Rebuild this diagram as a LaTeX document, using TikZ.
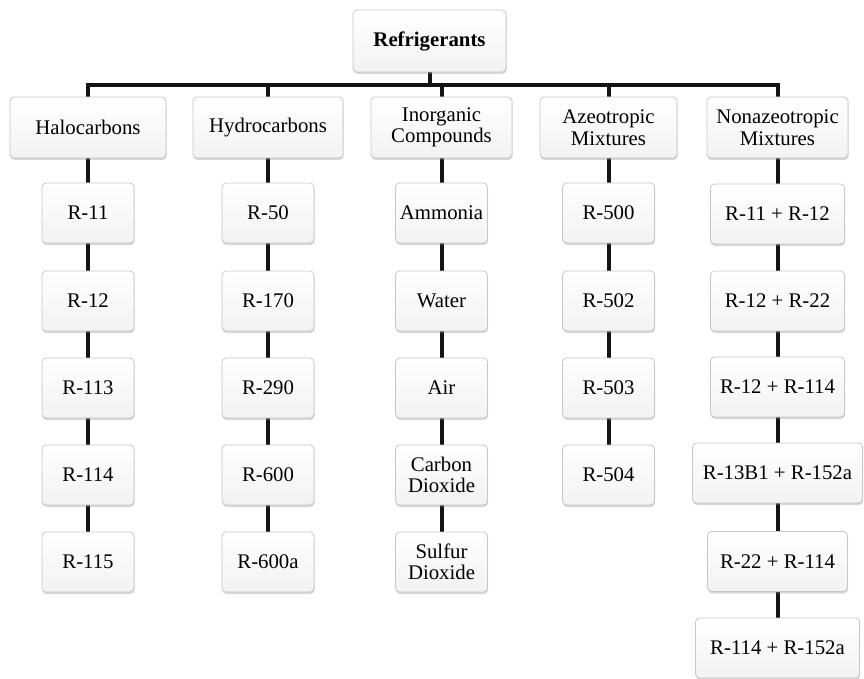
\documentclass[tikz,border=0pt]{standalone}
\usepackage{fontspec}
\setmainfont{Liberation Serif}
\usetikzlibrary{shadows,backgrounds}
\begin{document}
\begin{tikzpicture}[x=1pt,y=-1pt,
  box/.style={draw=black!22, line width=0.8pt, rounded corners=4pt,
    top color=white, bottom color=black!5,
    drop shadow={shadow xshift=0.5pt, shadow yshift=-2pt, opacity=0.35, fill=black!45},
    inner sep=0pt, align=center, minimum height=60pt, minimum width=92pt,
    font=\fontsize{20.8}{21.5}\selectfont},
  conn/.style={line width=4pt, draw=black!92, line join=miter}]
\useasboundingbox (0,0) rectangle (864,679);
% top
\node[box, minimum width=153pt, minimum height=62pt, font=\fontsize{20.8}{21.5}\selectfont\bfseries] (top) at (429.5,41) {Refrigerants};
% level 1
\node[box, minimum width=156pt, minimum height=61pt] (c1) at (88,127.5) {Halocarbons};
\node[box, minimum width=150pt, minimum height=61pt] (c2) at (268,127.5) {Hydrocarbons};
\node[box, minimum width=141pt, minimum height=61pt] (c3) at (441.5,127.5) {Inorganic\\Compounds};
\node[box, minimum width=137pt, minimum height=61pt] (c4) at (608.5,127.5) {Azeotropic\\Mixtures};
\node[box, minimum width=141pt, minimum height=61pt] (c5) at (777.5,127.5) {Nonazeotropic\\Mixtures};
% column 1
\node[box] (a1) at (88,213) {R-11};
\node[box] (a2) at (88,301) {R-12};
\node[box] (a3) at (88,388) {R-113};
\node[box] (a4) at (88,475) {R-114};
\node[box] (a5) at (88,562) {R-115};
% column 2
\node[box] (b1) at (268,213) {R-50};
\node[box] (b2) at (268,301) {R-170};
\node[box] (b3) at (268,388) {R-290};
\node[box] (b4) at (268,475) {R-600};
\node[box] (b5) at (268,562) {R-600a};
% column 3
\node[box] (d1) at (441.5,213) {Ammonia};
\node[box] (d2) at (441.5,301) {Water};
\node[box] (d3) at (441.5,388) {Air};
\node[box] (d4) at (441.5,475) {Carbon\\Dioxide};
\node[box] (d5) at (441.5,562) {Sulfur\\Dioxide};
% column 4
\node[box] (e1) at (608.5,213) {R-500};
\node[box] (e2) at (608.5,301) {R-502};
\node[box] (e3) at (608.5,388) {R-503};
\node[box] (e4) at (608.5,475) {R-504};
% column 5
\node[box, minimum width=134pt] (f1) at (777.5,214) {R-11 + R-12};
\node[box, minimum width=134pt] (f2) at (777.5,301) {R-12 + R-22};
\node[box, minimum width=134pt] (f3) at (777.5,387) {R-12 + R-114};
\node[box, minimum width=170pt] (f4) at (777.5,473) {R-13B1 + R-152a};
\node[box, minimum width=140pt] (f5) at (777.5,561.5) {R-22 + R-114};
\node[box, minimum width=164pt] (f6) at (777.5,648) {R-114 + R-152a};
% connectors
\coordinate (j) at (429.5,85);
\begin{scope}[on background layer]
\draw[conn] (top.south) -- (j);
\draw[conn] (c1.north) |- (c5.north |- j) -- (c5.north);
\draw[conn] (c2.north) -- (c2.north |- j);
\draw[conn] (c3.north) -- (c3.north |- j);
\draw[conn] (c4.north) -- (c4.north |- j);
\draw[conn] (c1) -- (a1); \draw[conn] (a1) -- (a2); \draw[conn] (a2) -- (a3); \draw[conn] (a3) -- (a4); \draw[conn] (a4) -- (a5);
\draw[conn] (c2) -- (b1); \draw[conn] (b1) -- (b2); \draw[conn] (b2) -- (b3); \draw[conn] (b3) -- (b4); \draw[conn] (b4) -- (b5);
\draw[conn] (c3) -- (d1); \draw[conn] (d1) -- (d2); \draw[conn] (d2) -- (d3); \draw[conn] (d3) -- (d4); \draw[conn] (d4) -- (d5);
\draw[conn] (c4) -- (e1); \draw[conn] (e1) -- (e2); \draw[conn] (e2) -- (e3); \draw[conn] (e3) -- (e4);
\draw[conn] (c5) -- (f1); \draw[conn] (f1) -- (f2); \draw[conn] (f2) -- (f3); \draw[conn] (f3) -- (f4); \draw[conn] (f4) -- (f5); \draw[conn] (f5) -- (f6);
\end{scope}
\end{tikzpicture}
\end{document}
